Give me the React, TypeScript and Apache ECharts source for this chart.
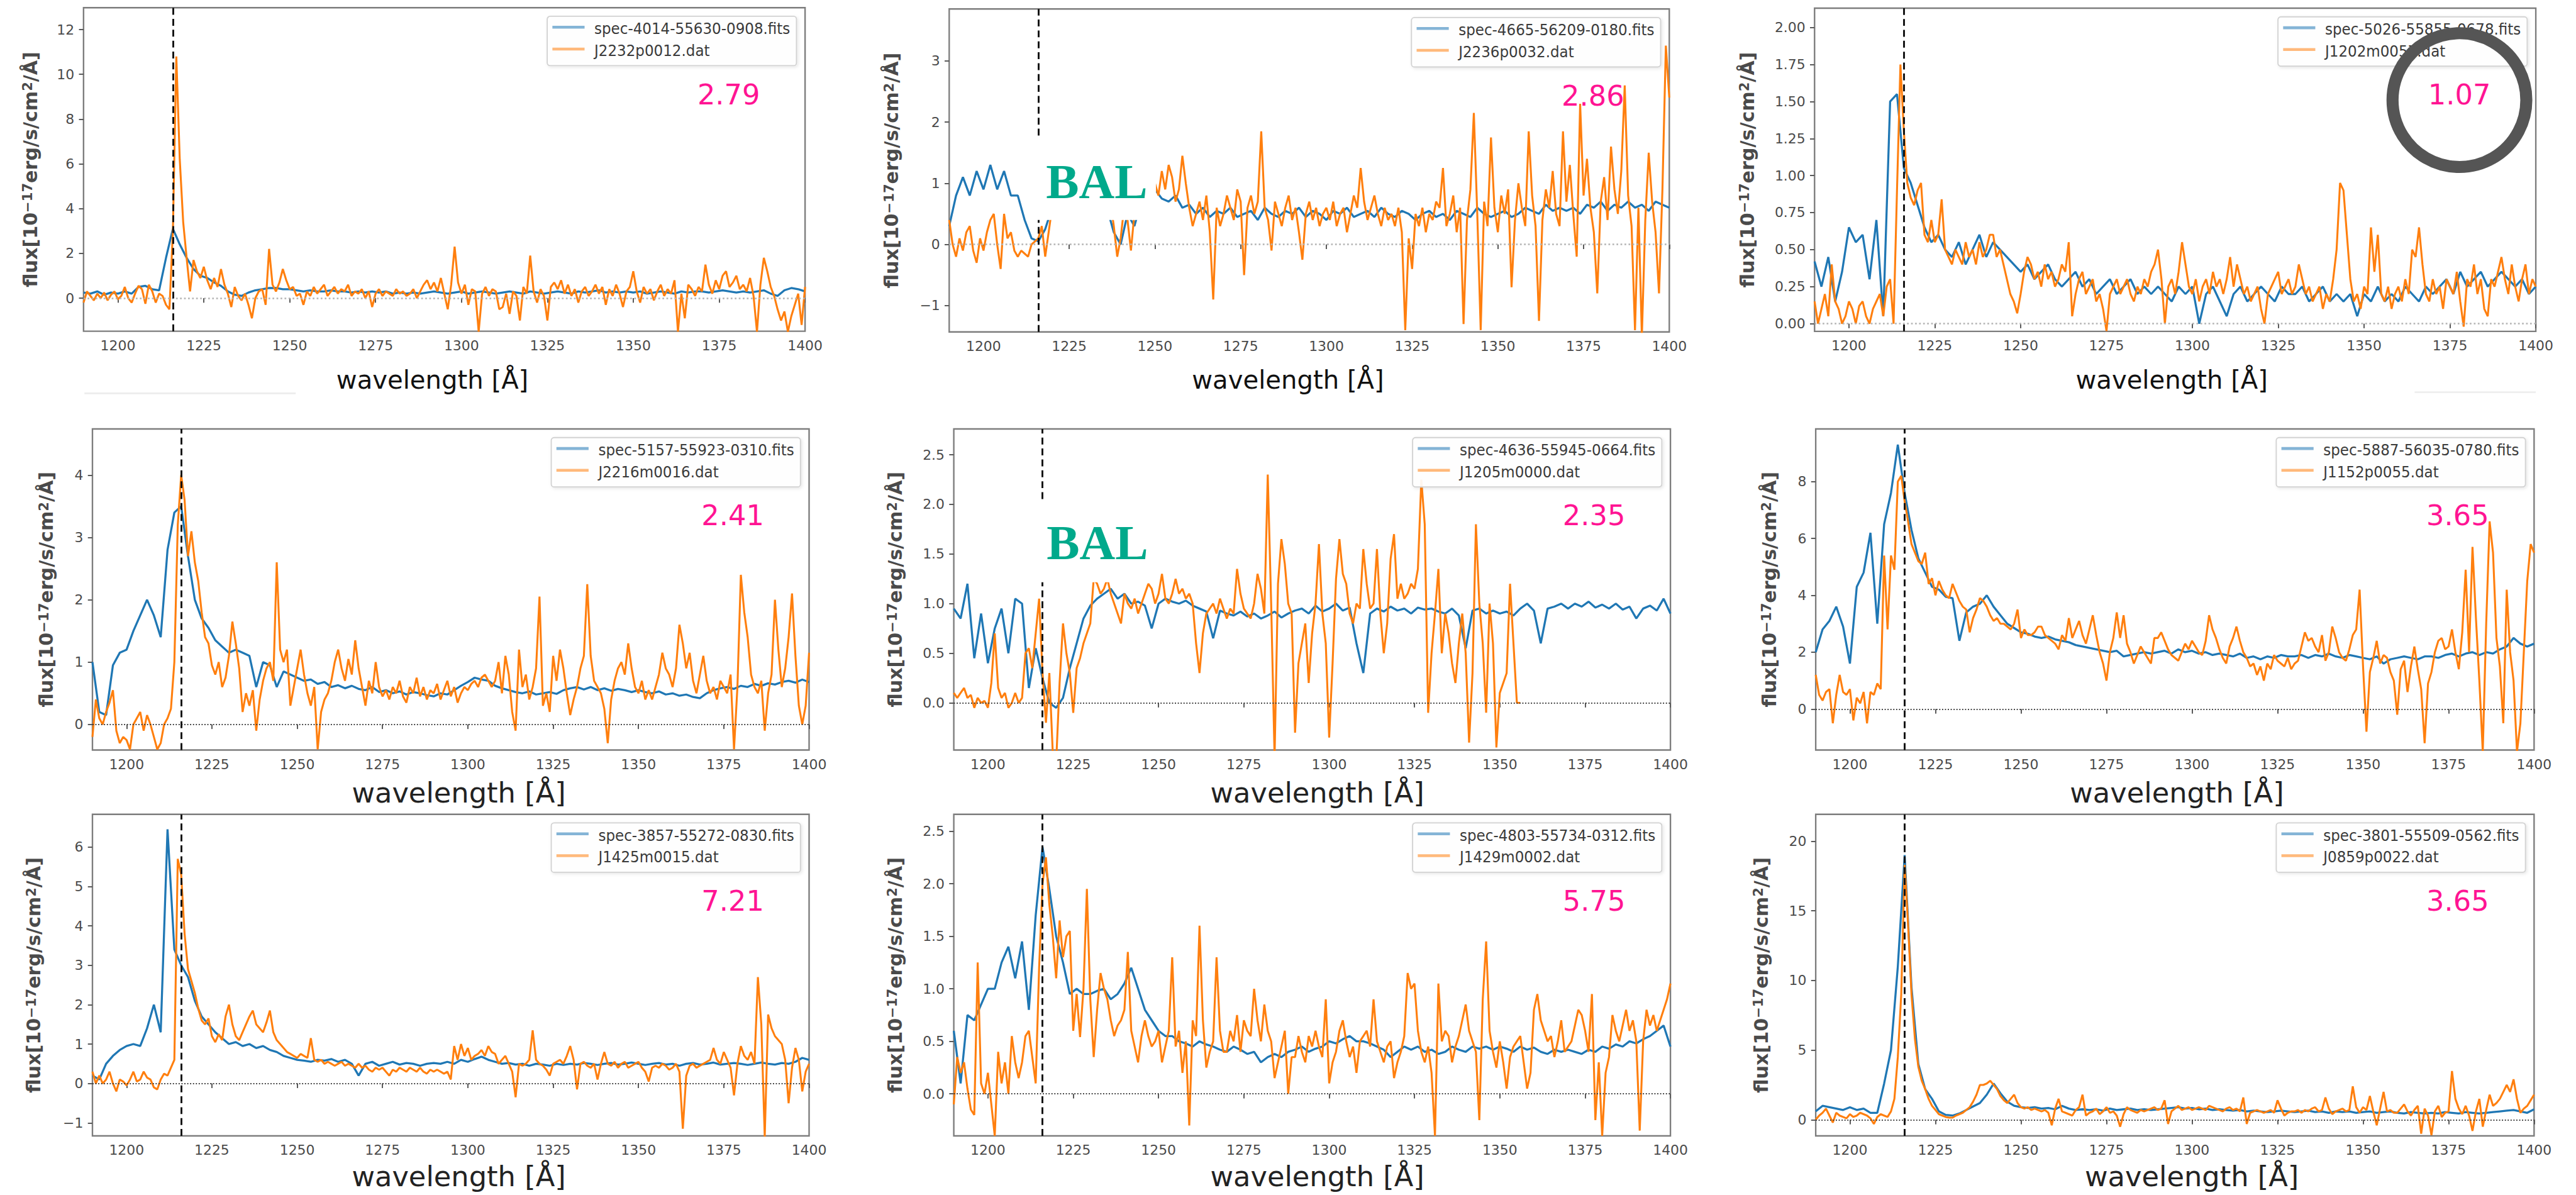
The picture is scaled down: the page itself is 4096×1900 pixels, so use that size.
import React, { useEffect, useRef } from "react";
import * as echarts from "echarts";

// Everything is laid out in a 4486-wide design space and scaled to the 4096 canvas.
const K = 4096 / 4486;
const s = (v: number) => v * K;

const WL_START = 1190;
const SDSS_STEP = 2; // Å between samples of the SDSS spectra
const DAT_STEP = 1; // Å between samples of the .dat spectra
const LYA = 1216;
const X_MIN = 1190;
const X_MAX = 1400;
const X_TICKS = [1200, 1225, 1250, 1275, 1300, 1325, 1350, 1375, 1400];

const SPEC_NAMES = [
  "spec-4014-55630-0908.fits",
  "spec-4665-56209-0180.fits",
  "spec-5026-55855-0678.fits",
  "spec-5157-55923-0310.fits",
  "spec-4636-55945-0664.fits",
  "spec-5887-56035-0780.fits",
  "spec-3857-55272-0830.fits",
  "spec-4803-55734-0312.fits",
  "spec-3801-55509-0562.fits",
];
const DAT_NAMES = [
  "J2232p0012.dat",
  "J2236p0032.dat",
  "J1202m0057.dat",
  "J2216m0016.dat",
  "J1205m0000.dat",
  "J1152p0055.dat",
  "J1425m0015.dat",
  "J1429m0002.dat",
  "J0859p0022.dat",
];
const RATIO_LABELS = ["2.79", "2.86", "1.07", "2.41", "2.35", "3.65", "7.21", "5.75", "3.65"];
const BAL_PANELS = [1, 4];
const CIRCLED_PANEL = 2;

const Y_MIN = [-1.48, -1.43, -0.052, -0.41, -0.475, -1.44, -1.33, -0.4, -1.16];
const Y_MAX = [12.98, 3.85, 2.13, 4.74, 2.76, 9.85, 6.83, 2.66, 21.93];
const Y_TICKS = [
  [0, 2, 4, 6, 8, 10, 12],
  [-1, 0, 1, 2, 3],
  [0, 0.25, 0.5, 0.75, 1, 1.25, 1.5, 1.75, 2],
  [0, 1, 2, 3, 4],
  [0, 0.5, 1, 1.5, 2, 2.5],
  [0, 2, 4, 6, 8],
  [-1, 0, 1, 2, 3, 4, 5, 6],
  [0, 0.5, 1, 1.5, 2, 2.5],
  [0, 5, 10, 15, 20],
];
const Y_DECIMALS = [0, 0, 2, 0, 1, 0, 0, 1, 0];

// ---- flux, 10^-17 erg/s/cm^2/Å ----
const P1_SDSS = [
  0.25, 0.2, 0.3, 0.15, 0.25, 0.2, 0.3, 0.2, 0.5, 0.55,
  0.4, 0.35, 1.8, 3.1, 2.4, 1.8, 1.3, 1.0, 0.9, 0.7,
  0.55, 0.3, 0.15, 0.1, 0.25, 0.35, 0.4, 0.45, 0.45, 0.4,
  0.4, 0.35, 0.3, 0.35, 0.3, 0.3, 0.35, 0.3, 0.3, 0.25,
  0.3, 0.25, 0.3, 0.25, 0.3, 0.2, 0.25, 0.2, 0.25, 0.2,
  0.25, 0.3, 0.25, 0.2, 0.25, 0.3, 0.2, 0.25, 0.3, 0.25,
  0.2, 0.25, 0.3, 0.25, 0.2, 0.3, 0.25, 0.2, 0.25, 0.3,
  0.25, 0.2, 0.3, 0.25, 0.3, 0.35, 0.25, 0.3, 0.25, 0.3,
  0.25, 0.3, 0.2, 0.25, 0.3, 0.25, 0.2, 0.3, 0.25, 0.3,
  0.3, 0.25, 0.3, 0.35, 0.3, 0.25, 0.3, 0.25, 0.3, 0.35,
  0.2, 0.1, 0.35, 0.45, 0.4, 0.3,
];
const P1_DAT = [
  -0.2, 0.3, 0.1, -0.1, 0.2, 0.0, 0.25, -0.1, 0.15, 0.3,
  -0.05, 0.1, 0.5, 0.0, -0.2, 0.2, 0.55, 0.4, -0.25, 0.6,
  0.3, -0.2, 0.2, 0.1, -0.3, -0.5, 3.0, 10.8, 6.2, 3.4,
  1.8, 0.3, 1.7, 1.2, 0.9, 1.4, 0.8, 0.4, 0.9, 0.5,
  1.3, 0.6, 0.2, -0.4, 0.5, 0.1, -0.1, 0.2, -0.3, -0.9,
  0.0, 0.3, 0.4, -0.3, 2.2, 0.6, 0.3, 0.7, 1.3, 0.8,
  0.4, 0.5, 0.1, 0.2, -0.3, 0.3, 0.1, 0.5, 0.2, 0.4,
  0.6, 0.1, 0.3, 0.5, 0.2, 0.4, 0.3, 0.6, 0.1, 0.3,
  0.2, 0.4, 0.0, 0.3, -0.4, 0.2, 0.4, 0.1, 0.3, 0.2,
  0.1, 0.4, 0.2, 0.3, 0.1, 0.2, 0.4, 0.0, 0.3, 0.6,
  0.8, 0.4, 0.7, 0.3, 0.9, 0.2, -0.5, 0.6, 2.3, 0.7,
  0.2, 0.6, -0.3, 0.4, 0.3, -1.5, 0.2, 0.5, 0.1, 0.4,
  0.3, -0.5, -0.4, 0.2, -0.7, 0.3, 0.1, -1.0, 0.5, 0.2,
  1.9, 0.3, -0.2, 0.4, 0.1, -1.0, 0.5, 0.7, 0.4, 0.8,
  0.2, 0.6, 0.1, 0.4, -0.2, 0.3, 0.5, 0.1, 0.3, 0.6,
  0.2, 0.5, -0.3, 0.4, 0.1, 0.6, 0.2, -0.4, 0.3, 0.5,
  1.2, 0.3, -0.2, 0.5, 0.2, 0.4, -0.1, 0.3, 0.6, 0.1,
  0.4, 0.2, 0.8, -1.5, 0.2, -0.9, 0.6, 0.4, 0.1, 0.5,
  0.3, 1.5, 0.6, 0.2, 0.8, 0.4, 1.0, 1.2, 0.5, 0.7,
  1.0, 0.4, 0.6, 0.3, 0.9, 0.1, -1.5, 0.6, 1.8, 1.2,
  0.5, 0.1, -0.5, -1.0, -0.6, -1.5, -0.8, -0.3, 0.2, -1.2,
  0.5,
];

const P2_SDSS = [
  0.3, 0.8, 1.1, 0.8, 1.2, 0.9, 1.3, 0.9, 1.2, 0.8,
  0.8, 0.4, 0.1, 0.05, 0.25, 0.6, 0.8, 0.9, 0.8, 0.9,
  0.85, 0.9, 0.8, 0.6, 0.2, 0.0, 0.5, 0.3, 0.7, 0.8,
  0.9, 0.75, 0.7, 0.8, 0.6, 0.65, 0.5, 0.6, 0.45, 0.55,
  0.5, 0.6, 0.45, 0.5, 0.55, 0.4, 0.6, 0.5, 0.45, 0.55,
  0.5, 0.6, 0.45, 0.55, 0.5, 0.4, 0.55, 0.5, 0.6, 0.45,
  0.5, 0.55, 0.45, 0.6, 0.5, 0.45, 0.55, 0.5, 0.4, 0.5,
  0.55, 0.45, 0.5, 0.4, 0.55, 0.5, 0.45, 0.6, 0.5, 0.45,
  0.5, 0.55, 0.45, 0.5, 0.6, 0.55, 0.5, 0.65, 0.55, 0.6,
  0.55, 0.6, 0.5, 0.65, 0.6, 0.7, 0.55, 0.65, 0.6, 0.7,
  0.6, 0.65, 0.55, 0.7, 0.65, 0.6,
];
const P2_DAT = [
  0.4, 0.0, -0.2, 0.1, -0.1, 0.2, 0.3, -0.1, -0.3, 0.1,
  -0.1, 0.2, 0.4, 0.5, 0.0, -0.4, 0.5, 0.1, 0.2, -0.1,
  -0.2, -0.1, -0.15, -0.2, 0.0, 0.05, 0.1, 0.3, -0.2, 0.2,
  0.6, 0.7, 0.9, 0.8, 1.0, 0.7, 0.9, 0.8, 0.7, 0.9,
  0.8, 0.6, 0.9, 0.7, 0.8, 0.6, 0.5, 0.7, 0.3, -0.2,
  0.1, 0.6, 0.4, -0.1, 0.5, 0.8, 0.9, 0.7, 1.0, 0.9,
  1.0, 0.8, 1.2, 0.9, 1.3, 1.1, 0.7, 0.9, 1.45, 1.0,
  0.6, 0.3, 0.5, 0.7, 0.4, 0.8, 0.2, -0.9, 0.6, 0.3,
  0.5, 0.8, 0.6, 0.4, 0.9, 0.7, -0.5, 0.6, 0.8, 0.5,
  0.7, 1.85, 0.6, 0.4, -0.1, 0.7, 0.5, 0.3, 0.6, 0.8,
  0.4, 0.6, 0.2, -0.25, 0.5, 0.7, 0.4, 0.6, 0.3, 0.5,
  0.6, 0.4, 0.7, 0.3, 0.5, 0.6, 0.2, 0.5, 0.8, 0.6,
  1.25, 0.7, 0.4, 0.6, 0.8, 0.5, 0.3, 0.6, 0.4, 0.5,
  0.3, 0.6, 0.2, -1.4, 0.1, -0.4, 0.5, 0.3, 0.6, 0.2,
  0.5, 0.4, 0.7, 0.6, 1.25, 0.3, 0.5, 0.8, 0.2, 0.6,
  -1.3, 0.4, 0.9, 2.15, 0.5, -1.4, 0.7, 0.3, 1.75, 0.6,
  0.2, 0.8, 0.5, 0.9, -0.7, 0.4, 1.0, 0.6, 0.3, 1.85,
  0.8, 0.3, -1.25, 0.4, 0.9, 0.6, 1.2, 0.5, 0.3, 1.85,
  0.7, 1.3, 0.5, -0.2, 2.3, 0.8, 1.4, 0.6, 0.2, -0.8,
  0.7, 1.1, 0.4, 1.6, 0.9, 0.5, 1.2, 2.6, 0.8, 0.3,
  -1.4, 0.6, -1.5, 0.4, 1.5, 0.7, 0.2, -0.8, 0.9, 3.25,
  2.4,
];

const P3_SDSS = [
  0.42, 0.25, 0.45, 0.15, 0.35, 0.65, 0.55, 0.6, 0.3, 0.7,
  0.05, 1.5, 1.55, 1.05, 0.95, 0.8, 0.65, 0.55, 0.6, 0.5,
  0.45, 0.55, 0.4, 0.5, 0.6, 0.45, 0.55, 0.5, 0.45, 0.4,
  0.35, 0.4, 0.3, 0.35, 0.4, 0.3, 0.25, 0.3, 0.35, 0.25,
  0.3, 0.2, 0.25, 0.3, 0.2, 0.25, 0.3, 0.2, 0.25, 0.2,
  0.25, 0.2, 0.15, 0.25, 0.2, 0.25, 0.0, 0.2, 0.25, 0.15,
  0.05, 0.2, 0.25, 0.15, 0.2, 0.25, 0.2, 0.15, 0.25, 0.2,
  0.2, 0.25, 0.15, 0.2, 0.25, 0.15, 0.2, 0.15, 0.2, 0.05,
  0.2, 0.15, 0.25, 0.15, 0.2, 0.15, 0.25, 0.2, 0.15, 0.25,
  0.2, 0.25, 0.3, 0.2, 0.35, 0.25, 0.3, 0.35, 0.25, 0.3,
  0.35, 0.3, 0.25, 0.3, 0.2, 0.25,
];
const P3_DAT = [
  0.15, 0.0, 0.1, 0.2, 0.05, 0.4, 0.15, 0.1, 0.0, 0.05,
  0.15, 0.1, 0.0, 0.12, 0.15, 0.05, 0.0, 0.1, 0.15, 0.2,
  0.05, 0.25, 0.3, 0.0, 0.9, 1.75, 1.3, 0.95, 0.85, 0.8,
  0.9, 0.95, 0.6, 0.55, 0.7, 0.55, 0.6, 0.84, 0.5, 0.45,
  0.4, 0.5, 0.45, 0.4, 0.55, 0.45, 0.5, 0.4, 0.55, 0.45,
  0.5, 0.6, 0.6, 0.45, 0.5, 0.4, 0.3, 0.2, 0.15, 0.07,
  0.2, 0.35, 0.45, 0.4, 0.3, 0.35, 0.25, 0.4, 0.3, 0.35,
  0.25, 0.3, 0.4, 0.35, 0.55, 0.05, 0.2, 0.3, 0.35, 0.2,
  0.25, 0.3, 0.15, 0.2, 0.1, -0.05, 0.2, 0.25, 0.3, 0.2,
  0.25, 0.3, 0.2, 0.15, 0.25, 0.2, 0.3, 0.25, 0.35, 0.4,
  0.5, 0.3, 0.0, 0.25, 0.3, 0.2, 0.35, 0.55, 0.4, 0.25,
  0.2, 0.3, 0.15, 0.25, 0.3, 0.2, 0.35, 0.25, 0.3, 0.2,
  0.3, 0.45, 0.25, 0.4, 0.3, 0.2, 0.25, 0.15, 0.2, 0.25,
  0.1, 0.0, 0.2, 0.25, 0.3, 0.35, 0.2, 0.25, 0.3, 0.2,
  0.25, 0.4, 0.3, 0.2, 0.25, 0.15, 0.2, 0.25, 0.1, 0.2,
  0.15, 0.3, 0.5, 0.95, 0.9, 0.6, 0.3, 0.15, 0.2, 0.1,
  0.25, 0.2, 0.65, 0.35, 0.6, 0.2, 0.15, 0.25, 0.1, 0.2,
  0.25, 0.15, 0.3, 0.2, 0.5, 0.45, 0.65, 0.4, 0.2, 0.15,
  0.3, 0.2, 0.25, 0.1, 0.3, 0.25, 0.2, 0.35, 0.15, -0.02,
  0.3, 0.25, 0.4, 0.2, 0.3, 0.1, 0.05, 0.3, 0.25, 0.35,
  0.45, 0.3, 0.2, 0.4, 0.25, 0.15, 0.3, 0.4, 0.2, 0.3,
  0.25,
];

const P4_SDSS = [
  1.0, 0.2, 0.15, 0.95, 1.15, 1.2, 1.5, 1.75, 2.0, 1.75,
  1.4, 2.8, 3.4, 3.5, 2.7, 2.0, 1.7, 1.55, 1.35, 1.25,
  1.15, 1.2, 1.15, 1.1, 0.6, 1.0, 0.95, 0.6, 0.85, 0.8,
  0.75, 0.7, 0.72, 0.65, 0.68, 0.6, 0.63, 0.58, 0.62, 0.57,
  0.55, 0.6, 0.52, 0.55, 0.5, 0.53, 0.48, 0.52, 0.5, 0.47,
  0.45, 0.5, 0.48, 0.55, 0.62, 0.68, 0.75, 0.72, 0.7, 0.62,
  0.58, 0.55, 0.52, 0.5, 0.53, 0.48, 0.5, 0.52, 0.49, 0.55,
  0.58, 0.6, 0.56, 0.6, 0.55, 0.58, 0.54, 0.57, 0.55, 0.52,
  0.55, 0.52, 0.5, 0.53, 0.48, 0.5, 0.46, 0.48, 0.44, 0.42,
  0.5, 0.55, 0.58, 0.6, 0.57, 0.62, 0.6, 0.65, 0.62, 0.66,
  0.64, 0.68, 0.7, 0.67, 0.72, 0.68,
];
const P4_DAT = [
  -0.2, 0.4, 0.1, 0.0, 0.2, 0.35, 0.55, -0.1, -0.3, -0.2,
  -0.25, -0.4, 0.0, 0.1, 0.2, -0.1, 0.15, 0.0, -0.2, -0.4,
  -0.3, 0.0, 0.1, 0.25, 1.0, 3.2, 4.0, 3.6, 2.7, 3.1,
  2.6, 2.3, 1.8, 1.4, 1.3, 0.95, 0.8, 1.0, 0.6, 0.75,
  1.1, 1.65, 1.3, 0.9, 0.2, 0.5, 0.3, 0.55, -0.1, 0.4,
  0.7, 0.9, 1.0, 0.7, 2.6, 1.2, 1.0, 1.2, 0.3, 0.6,
  0.9, 1.2, 0.8, 0.5, 0.3, 0.6, -0.4, 0.2, 0.4, 0.5,
  0.7, 1.0, 1.2, 0.9, 0.7, 1.05, 0.8, 1.35, 0.9, 0.6,
  0.3, 0.7, 0.5, 1.0, 0.6, 0.45, 0.55, 0.4, 0.6, 0.5,
  0.7, 0.45, 0.35, 0.6, 0.5, 0.75, 0.45, 0.6, 0.4, 0.55,
  0.5, 0.65, 0.4, 0.55, 0.7, 0.45, 0.6, 0.35, 0.5, 0.6,
  0.55, 0.65, 0.7, 0.6, 0.75, 0.8, 0.7, 0.6, 0.7, 1.0,
  0.5, 1.1, 0.8, 0.2, -0.1, 1.2, 0.6, 0.8, 0.4, 0.6,
  0.9, 2.05, 0.3, 0.5, 0.2, 1.1, 0.7, 1.2, 0.9, 0.5,
  0.15, 0.4, 0.6, 0.9, 1.1, 2.25, 1.1, 0.7, 0.6, 0.5,
  0.25, -0.3, 0.4, 0.7, 0.9, 1.0, 0.8, 1.3, 0.9, 0.6,
  0.5, 0.7, 0.4, 0.55, 0.4, 0.6, 0.8, 1.15, 0.9, 0.8,
  0.6, 0.9, 1.6, 1.3, 0.9, 1.15, 0.7, 0.5, 0.8, 1.1,
  0.7, 0.5, 0.6, 0.4, 0.7, 0.6, 0.5, 0.8, -0.4, 0.6,
  2.4, 1.8, 1.4, 0.8, 0.6, 0.5, 0.7, -0.1, 0.5, 0.8,
  2.0, 1.2, 0.6, 0.9, 1.4, 2.1, 1.1, 0.3, 0.0, 0.3,
  1.15,
];

const P5_SDSS = [
  0.95, 0.85, 1.2, 0.45, 0.9, 0.4, 0.75, 0.95, 0.5, 1.05,
  1.0, 0.15, 0.55, 0.25, 0.0, -0.05, 0.05, 0.35, 0.6, 0.85,
  0.98, 1.05, 1.1, 1.15, 1.05, 1.1, 1.0, 1.02, 0.98, 0.75,
  1.0, 1.05, 1.02, 1.0, 1.03, 0.98, 0.95, 0.92, 0.65, 0.93,
  0.9, 0.88, 0.92, 0.87, 0.9, 0.85, 0.88, 0.92, 0.86, 0.9,
  0.93, 0.95, 0.9, 0.98, 0.92, 0.95, 1.0, 0.93, 0.96, 0.6,
  0.3, 0.9, 0.95, 0.92, 0.97, 0.93, 0.95, 0.9, 0.96, 0.94,
  0.95, 0.92, 0.9, 0.95, 0.88, 0.55, 0.93, 0.95, 0.9, 0.93,
  0.9, 0.92, 0.88, 0.95, 1.0, 0.93, 0.6, 0.95, 0.97, 1.0,
  0.95, 1.0, 0.97, 1.02, 0.96, 0.99, 0.95, 1.0, 0.94, 0.97,
  0.85, 0.95, 0.98, 0.93, 1.05, 0.9,
];
// this spectrum stops at 1356 Å
const P5_DAT = [
  0.1, 0.05, 0.1, 0.15, 0.05, 0.08, -0.05, 0.05, 0.0, 0.02,
  -0.05, 0.2, 0.7, 0.15, 0.05, 0.1, -0.05, 0.0, 0.1, 0.0,
  0.05, 0.5, 0.55, 0.35, 0.7, 1.05, 0.3, -0.2, 0.3, -0.5,
  -0.6, 0.2, 0.8, 0.5, 0.3, -0.1, 0.35, 0.45, 0.6, 0.7,
  0.8, 1.25, 1.2, 1.1, 1.15, 1.25, 1.1, 1.0, 0.9, 0.8,
  1.1, 1.0, 0.95, 1.05, 0.9, 1.0, 1.1, 1.2, 1.15, 1.0,
  1.1, 1.3, 1.05, 1.0, 1.1, 1.25, 1.1, 1.15, 1.05, 1.1,
  1.0, 0.6, 0.3, 0.7, 0.9, 0.95, 1.0, 0.9, 1.05, 0.95,
  0.85, 0.95, 0.9, 1.35, 1.1, 0.95, 0.9, 0.85, 1.0, 1.3,
  1.15, 0.9, 2.3, 1.0, -0.55, 1.2, 1.65, 1.4, 1.0, 0.9,
  -0.3, 0.4, 0.6, 0.8, 0.2, 0.7, 1.0, 1.6, 0.9, 0.6,
  -0.35, 0.4, 1.25, 1.65, 1.3, 1.2, 0.9, 0.8, 1.0, 0.95,
  1.55, 1.2, 0.95, 1.0, 1.55, 0.9, 0.5, 0.8, 1.45, 1.7,
  1.05, 1.2, 1.05, 1.1, 1.2, 1.15, 1.35, 2.25, 1.8, -0.1,
  0.5, 0.9, 1.35, 0.5, 0.9, 0.7, 0.4, 0.2, 0.6, 0.9,
  0.5, -0.4, 0.3, 1.8, 1.0, 0.6, -0.1, 1.0, 0.6, -0.45,
  0.1, 0.2, 0.3, 1.2, 0.6, 0.0, 0.0,
];

const P6_SDSS = [
  2.0, 2.8, 3.1, 3.6, 2.9, 1.6, 4.3, 4.8, 6.2, 3.0,
  6.5, 7.6, 9.3, 7.6, 6.3, 5.3, 4.8, 4.3, 4.2, 3.95,
  3.9, 2.4, 3.4, 3.6, 3.7, 4.0, 3.6, 3.3, 3.0, 2.85,
  2.7, 2.65, 2.55, 2.5, 2.55, 2.45, 2.4, 2.35, 2.25, 2.2,
  2.15, 2.1, 2.05, 2.0, 2.05, 1.85, 1.9, 1.95, 2.0, 1.95,
  2.0, 2.05, 1.95, 2.1, 2.0, 2.05, 1.95, 2.0, 1.9, 1.95,
  1.9, 1.85, 1.95, 1.8, 1.85, 1.75, 1.85, 1.8, 1.9, 1.85,
  1.85, 1.9, 1.8, 1.9, 1.85, 1.95, 1.85, 1.8, 1.9, 1.85,
  1.8, 1.75, 1.85, 1.6, 1.75, 1.8, 1.85, 1.8, 1.75, 1.85,
  1.85, 1.8, 1.9, 1.95, 1.85, 1.95, 2.0, 1.9, 2.0, 1.95,
  2.1, 2.2, 2.5, 2.3, 2.2, 2.3,
];
const P6_DAT = [
  1.2, 0.5, 0.3, 0.6, 0.7, -0.5, 0.5, 1.2, 0.6, 0.5,
  0.7, -0.4, 0.4, 0.2, 0.6, -0.5, 0.6, 0.5, 0.9, 0.7,
  5.4, 2.8, 5.4, 4.9, 8.0, 8.2, 7.3, 6.6, 5.8, 5.5,
  5.2, 5.1, 5.5, 4.4, 4.6, 4.0, 4.5, 4.2, 4.0, 3.9,
  4.4, 4.1, 3.8, 3.6, 3.5, 2.7, 3.2, 3.5, 3.9, 3.8,
  3.6, 3.3, 3.1, 3.2, 3.0, 3.0, 2.9, 2.8, 3.0, 3.5,
  2.5, 2.8, 2.6, 2.6, 2.7, 2.9, 2.9, 2.6, 2.5, 2.4,
  2.3, 2.1, 2.6, 2.4, 3.2, 2.5, 2.8, 3.1, 2.6, 2.3,
  2.8, 3.3, 2.6, 2.0, 1.6, 1.0, 2.0, 2.5, 3.4, 2.5,
  3.3, 2.3, 2.0, 1.6, 1.9, 2.2, 2.0, 1.8, 1.6, 2.5,
  2.5, 2.7, 2.4, 2.1, 1.9, 1.8, 1.7, 2.0, 2.3, 2.1,
  2.4, 2.2, 2.0, 1.9, 2.4, 3.3, 2.8, 2.5, 2.1, 1.8,
  1.6, 2.2, 2.5, 2.9, 2.4, 2.0, 1.8, 1.5, 1.6, 1.2,
  1.5, 1.0, 1.6, 1.4, 1.9, 1.7, 1.6, 1.5, 1.8, 1.4,
  1.6, 1.7, 2.2, 2.7, 2.4, 2.5, 2.2, 2.0, 2.6, 1.7,
  2.0, 2.9, 2.5, 2.0, 1.8, 1.7, 2.1, 2.6, 2.8, 4.2,
  1.5, -0.8, 1.3, 1.8, 2.4, 1.6, 1.9, 1.8, 1.3, 1.0,
  -0.2, 1.4, 1.7, 0.6, 1.5, 2.2, 1.4, 0.7, -1.2, 0.9,
  1.3, 2.0, 2.4, 2.5, 2.1, 2.2, 2.8, 2.0, 1.4, 2.7,
  4.9, 2.0, 5.7, 3.2, 1.0, -1.5, 3.0, 6.6, 5.5, 2.5,
  1.5, -0.5, 4.2, 2.0, 1.0, -1.5, -0.5, 2.0, 4.5, 5.8,
  5.5,
];

const P7_SDSS = [
  0.2, 0.1, 0.5, 0.7, 0.85, 0.95, 1.0, 0.95, 1.4, 2.0,
  1.3, 6.45, 3.4, 3.0, 2.7, 2.1, 1.7, 1.5, 1.3, 1.15,
  1.0, 1.05, 0.95, 1.0, 0.9, 0.95, 0.85, 0.8, 0.7, 0.65,
  0.6, 0.58, 0.55, 0.6, 0.58, 0.62, 0.55, 0.6, 0.5, 0.2,
  0.5, 0.55, 0.45, 0.5, 0.55, 0.48, 0.52, 0.5, 0.45, 0.5,
  0.52, 0.5, 0.55, 0.5, 0.6, 0.55, 0.62, 0.68, 0.6, 0.55,
  0.5, 0.52, 0.48, 0.5, 0.45, 0.5, 0.48, 0.45, 0.5, 0.47,
  0.5, 0.48, 0.52, 0.5, 0.47, 0.5, 0.52, 0.48, 0.5, 0.53,
  0.5, 0.47, 0.5, 0.52, 0.48, 0.5, 0.45, 0.5, 0.52, 0.48,
  0.5, 0.53, 0.48, 0.5, 0.52, 0.5, 0.47, 0.5, 0.53, 0.5,
  0.48, 0.52, 0.5, 0.55, 0.65, 0.6,
];
const P7_DAT = [
  0.3, 0.0, 0.2, 0.0, 0.1, 0.3, 0.0, -0.2, 0.1, 0.05,
  -0.05, 0.1, 0.3, 0.05, 0.1, 0.3, 0.15, 0.1, -0.1, -0.15,
  0.1, 0.25, 0.2, 0.4, 0.6, 5.7, 5.3, 3.8, 2.9, 2.6,
  2.3, 1.9, 1.6, 1.5, 1.65, 1.2, 1.05, 1.25, 1.1, 1.7,
  2.0, 1.5, 1.2, 1.1, 1.3, 1.5, 1.7, 1.85, 1.5, 1.4,
  1.3, 1.55, 1.85, 1.3, 1.1, 1.0, 0.9, 0.8, 0.75, 0.7,
  0.65, 0.75, 0.7, 0.65, 1.15, 0.6, 0.55, 0.6, 0.5, 0.55,
  0.5, 0.45, 0.5, 0.55, 0.45, 0.5, 0.45, 0.4, 0.5, 0.4,
  0.45, 0.35, 0.3, 0.4, 0.35, 0.4, 0.3, 0.2, 0.35, 0.3,
  0.4, 0.35, 0.3, 0.4, 0.35, 0.3, 0.4, 0.3, 0.25, 0.35,
  0.3, 0.35, 0.3, 0.25, 0.3, 0.1, 0.95, 0.6, 1.0, 0.7,
  0.9, 0.6, 0.7, 0.75, 0.85, 0.7, 0.95, 0.8, 0.75, 0.5,
  0.6, 0.7, 0.5, 0.3, -0.35, 0.5, 0.45, 0.5, 0.6, 1.35,
  0.6, 0.5, 0.45, 0.35, 0.2, 0.5, 0.55, 0.6, 0.5, 0.7,
  0.95, 0.6, -0.15, 0.5, 0.55, 0.45, 0.4, 0.5, 0.1, 0.5,
  0.8, 0.5, 0.45, 0.55, 0.4, 0.5, 0.55, 0.4, 0.45, 0.5,
  0.55, 0.4, 0.3, 0.05, 0.4, 0.45, 0.4, 0.5, 0.45, 0.35,
  0.4, 0.5, 0.3, -1.15, 0.2, 0.45, 0.5, 0.4, 0.45, 0.5,
  0.55, 0.6, 0.9, 0.6, 0.5, 0.8, 0.6, 0.4, -0.3, 0.5,
  0.95, 0.7, 0.6, 0.8, 0.5, 2.7, 1.5, -1.35, 1.75, 1.4,
  1.2, 1.1, 1.0, 0.6, -0.5, 0.4, 0.9, 0.6, -0.2, 0.3,
  0.5,
];

const P8_SDSS = [
  0.6, 0.1, 0.75, 0.7, 0.85, 1.0, 1.0, 1.25, 1.4, 1.1,
  1.45, 0.8, 1.7, 2.35, 1.95, 1.5, 1.25, 0.95, 1.0, 0.95,
  0.95, 0.98, 1.0, 0.9, 0.95, 1.05, 1.2, 1.0, 0.8, 0.7,
  0.6, 0.55, 0.55, 0.5, 0.48, 0.45, 0.5, 0.47, 0.45, 0.42,
  0.4, 0.45, 0.42, 0.38, 0.4, 0.3, 0.35, 0.38, 0.35, 0.4,
  0.42, 0.45, 0.4, 0.43, 0.45, 0.5, 0.48, 0.52, 0.55, 0.5,
  0.5, 0.48, 0.45, 0.42, 0.35, 0.4, 0.45, 0.42, 0.45, 0.4,
  0.42, 0.38, 0.4, 0.45, 0.42, 0.4, 0.45, 0.43, 0.45, 0.42,
  0.45, 0.43, 0.4, 0.45, 0.42, 0.44, 0.4, 0.38, 0.42, 0.4,
  0.42, 0.4, 0.38, 0.42, 0.4, 0.45, 0.43, 0.47, 0.45, 0.5,
  0.48, 0.52, 0.55, 0.6, 0.65, 0.45,
];
const P8_DAT = [
  -0.1, 0.35, 0.2, 0.3, 0.05, -0.15, -0.2, 1.25, 0.1, 0.0,
  0.2, -0.1, -0.4, 0.4, 0.1, 0.3, 0.0, 0.55, 0.3, 0.15,
  0.3, 0.55, 0.6, 0.35, 0.1, 1.2, 2.0, 2.25, 1.8, 1.5,
  1.1, 1.65, 1.3, 1.5, 1.55, 0.6, 0.95, 0.54, 1.0, 1.95,
  0.9, 0.35, 0.8, 1.15, 1.0, 0.9, 0.7, 0.55, 0.65, 0.7,
  0.8, 1.35, 0.6, 0.45, 0.3, 0.55, 0.7, 0.55, 0.45, 0.5,
  0.6, 0.3, 0.45, 0.6, 1.3, 0.45, 0.6, 0.2, 0.5, -0.3,
  0.7, 0.55, 1.6, 0.7, 0.25, 0.4, 0.5, 1.3, 0.6, 0.4,
  0.4, 0.6, 0.5, 0.75, 0.4, 0.7, 0.6, 0.55, 1.0, 0.7,
  0.5, 0.85, 0.6, 0.5, 0.15, 0.3, 0.45, 0.6, 0.0, 0.35,
  0.35, 0.55, 0.4, 0.3, 0.55, 0.45, 0.6, 0.45, 0.35, 0.9,
  0.1, 0.3, 0.4, 0.6, 0.7, 0.5, 0.35, 0.45, 0.2, 0.5,
  0.55, 0.6, 0.45, 0.9, 0.5, 0.4, 0.3, 0.45, 0.5, 0.15,
  0.3, 0.4, 0.55, 1.15, 1.0, 1.05, 0.6, 0.4, 0.3, 0.45,
  0.2, -0.4, 1.05, 0.5, 0.6, 0.55, 0.3, 0.45, 0.55, 0.7,
  0.85, 0.6, 0.5, 0.4, -0.25, 0.9, 1.45, 0.6, 0.4, 0.25,
  0.5, 0.3, 0.05, 0.35, 0.45, 0.5, 0.55, 0.3, 0.05, 0.2,
  0.8, 0.95, 0.7, 0.6, 0.5, 0.55, 0.35, 0.5, 0.7, 0.4,
  0.45, 0.5, 0.65, 0.8, 0.75, 0.6, 0.4, 0.95, -0.25, 0.3,
  -0.4, 0.2, 0.35, 0.75, 0.6, 0.5, 0.65, 0.8, 0.6, 0.7,
  0.5, -0.35, 0.5, 0.8, 0.65, 0.75, 0.6, 0.7, 0.8, 0.9,
  1.05,
];

const P9_SDSS = [
  0.6, 1.0, 0.9, 0.8, 0.7, 0.9, 0.7, 0.8, 0.5, 0.5,
  2.6, 5.0, 11.0, 19.0, 9.5, 4.0, 2.2, 1.5, 0.6, 0.35,
  0.3, 0.45, 0.7, 0.95, 1.2, 1.8, 2.6, 1.9, 1.3, 1.0,
  0.9, 0.85, 0.9, 0.8, 0.85, 0.75, 1.0, 0.8, 0.7, 0.75,
  0.7, 0.75, 0.65, 0.8, 0.7, 0.75, 0.8, 0.7, 0.75, 0.7,
  0.75, 0.8, 0.85, 0.9, 0.8, 0.85, 0.75, 0.8, 0.7, 0.75,
  0.7, 0.65, 0.7, 0.6, 0.65, 0.6, 0.55, 0.6, 0.65, 0.6,
  0.55, 0.6, 0.65, 0.55, 0.6, 0.5, 0.6, 0.55, 0.6, 0.5,
  0.55, 0.6, 0.5, 0.55, 0.6, 0.5, 0.45, 0.55, 0.5, 0.45,
  0.5, 0.45, 0.55, 0.5, 0.45, 0.55, 0.5, 0.45, 0.5, 0.55,
  0.6, 0.65, 0.7, 0.6, 0.5, 0.75,
];
const P9_DAT = [
  0.0, 0.3, 0.5, 0.8, 0.3, -0.2, 0.5, 0.3, 0.2, 0.1,
  0.4, 0.2, 0.3, 0.5, 0.4, 0.3, 0.1, -0.3, 0.2, 0.4,
  0.3, 0.2, 0.6, 1.5, 4.5, 9.0, 18.3, 14.0, 9.0, 5.8,
  3.8, 2.8, 2.2, 1.5, 1.0, 0.7, 0.4, 0.3, 0.2, 0.15,
  0.15, 0.3, 0.4, 0.5, 0.7, 0.9, 1.3, 1.8, 2.5, 2.5,
  2.6, 2.8, 2.5, 2.2, 1.7, 1.4, 1.2, 1.5, 1.8, 1.2,
  0.9, 0.8, 0.9, 0.7, 0.8, 0.7, 0.6, 0.7, 0.5, -0.4,
  0.8, 1.5, 0.6, 0.5, 0.4, 0.3, 0.7, 0.9, 1.8, 0.3,
  0.5, 0.6, 0.8, 0.4, 0.6, 0.9, 0.5, 0.6, 0.3, -0.5,
  0.4, 0.9, 0.7, 0.6, 0.5, 0.7, 0.6, 0.7, 0.8, 0.9,
  0.7, 0.8, 1.4, -0.3, 0.6, 0.8, 1.0, 0.7, 0.8, 0.9,
  0.7, 0.8, 0.9, 0.8, 0.7, 1.0, 0.9, 0.8, 0.7, 0.6,
  0.8, 0.9, 0.7, 0.8, 0.6, 1.6, -0.3, 0.5, 0.6, 0.7,
  0.6, 0.5, 0.6, 0.7, 0.5, 1.4, 0.8, 0.3, 0.5, 0.6,
  0.6, 0.7, 0.5, 0.7, 0.6, 0.8, 0.9, 0.6, 0.7, 1.6,
  0.8, 0.4, 0.6, 0.7, 0.8, 0.6, 0.7, 2.4, 0.9, 0.5,
  0.9, 0.7, 1.7, 0.6, -0.4, 0.8, 2.0, 0.6, 0.7, 0.5,
  0.5, 0.8, 1.1, 0.6, 0.3, 0.7, 1.0, -1.0, 0.8, 0.3,
  -1.1, 0.6, 1.0, 0.2, 0.5, 0.6, 3.5, 1.5, 0.8, 0.4,
  1.0, 0.3, -0.8, 0.6, 1.5, -0.5, 0.7, 1.8, 1.0, 1.2,
  1.5, 2.0, 2.5, 2.0, 2.9, 1.5, 0.5, 0.8, 1.0, 1.4,
  1.8,
];

const SDSS = [P1_SDSS, P2_SDSS, P3_SDSS, P4_SDSS, P5_SDSS, P6_SDSS, P7_SDSS, P8_SDSS, P9_SDSS];
const DAT = [P1_DAT, P2_DAT, P3_DAT, P4_DAT, P5_DAT, P6_DAT, P7_DAT, P8_DAT, P9_DAT];

// ---- layout (design pixels): plot frame [left, right, top, bottom] ----
const FRAMES = [
  [145.5, 1402, 13.4, 576.8],
  [1653, 2907, 15.6, 578],
  [3160, 4416, 14.3, 577],
  [161, 1409, 747, 1306],
  [1661, 2909, 747, 1306],
  [3162, 4413, 747, 1306],
  [161, 1409, 1418, 1978],
  [1661, 2909, 1418, 1978],
  [3162, 4413, 1418, 1978],
];
const XLABEL_POS = [
  [753, 661], [2243, 661], [3782, 661],
  [799, 1381], [2294, 1381], [3791, 1381],
  [799, 2049], [2294, 2049], [3817, 2049],
];
const YLABEL_X = [53, 1553, 3043, 81, 1559, 3081, 59, 1559, 3067];
const BAL_BOXES: Record<number, number[]> = {
  1: [1805, 242, 2013, 383, 1910, 316],
  4: [1811, 871, 2012, 1014, 1911, 945],
};

const BLUE = "#1f77b4";
const ORANGE = "#ff7f0e";
const PINK = "#ff1493";

function fmtTick(v: number, d: number) {
  const t = Math.abs(v).toFixed(d);
  return v < 0 ? "\u2212" + t : t;
}

function buildOption() {
  const grid: any[] = [];
  const xAxis: any[] = [];
  const yAxis: any[] = [];
  const series: any[] = [];
  const elements: any[] = [];

  FRAMES.forEach(([L, R, T, B], i) => {
    const row = Math.floor(i / 3);
    grid.push({
      left: s(L),
      top: s(T),
      width: s(R - L),
      height: s(B - T),
      show: true,
      borderColor: "#7d7d7d",
      borderWidth: s(2.6),
      backgroundColor: "transparent",
      containLabel: false,
      outerBoundsMode: "none",
    });
    xAxis.push({
      type: "value",
      gridIndex: i,
      min: X_MIN,
      max: X_MAX,
      axisLine: { show: false },
      splitLine: { show: false },
      axisTick: {
        show: true,
        customValues: X_TICKS,
        length: s(8),
        lineStyle: { color: "#5a5a5a", width: s(2.2) },
      },
      axisLabel: {
        customValues: X_TICKS,
        margin: s(13),
        fontSize: s(24),
        color: "#4a4a4a",
        fontFamily: "DejaVu Sans",
        formatter: (v: number) => String(v),
      },
    });
    yAxis.push({
      type: "value",
      gridIndex: i,
      min: Y_MIN[i],
      max: Y_MAX[i],
      axisLine: { show: false },
      splitLine: { show: false },
      axisTick: {
        show: true,
        customValues: Y_TICKS[i],
        length: s(8),
        lineStyle: { color: "#5a5a5a", width: s(2.2) },
      },
      axisLabel: {
        customValues: Y_TICKS[i],
        margin: s(16),
        fontSize: s(24),
        color: "#4a4a4a",
        fontFamily: "DejaVu Sans",
        formatter: (v: number) => fmtTick(v, Y_DECIMALS[i]),
      },
    });

    const zeroStyle =
      row === 0
        ? { color: "#b4b4b4", width: s(3), type: [s(3), s(4)] }
        : { color: "#3a3a3a", width: s(2), type: [s(2), s(3)] };

    series.push({
      type: "line",
      name: SPEC_NAMES[i],
      xAxisIndex: i,
      yAxisIndex: i,
      data: SDSS[i].map((v, k) => [WL_START + k * SDSS_STEP, v]),
      showSymbol: false,
      symbol: "none",
      lineStyle: { color: BLUE, width: s(3.6) },
      itemStyle: { color: BLUE },
      z: 2,
    });
    series.push({
      type: "line",
      name: DAT_NAMES[i],
      xAxisIndex: i,
      yAxisIndex: i,
      data: DAT[i].map((v, k) => [WL_START + k * DAT_STEP, v]),
      showSymbol: false,
      symbol: "none",
      lineStyle: { color: ORANGE, width: s(3.4) },
      itemStyle: { color: ORANGE },
      z: 3,
      markLine: {
        silent: true,
        symbol: ["none", "none"],
        label: { show: false },
        data: [
          { yAxis: 0, lineStyle: zeroStyle },
          { xAxis: LYA, lineStyle: { color: "#111", width: s(3.2), type: [s(12), s(7)] } },
        ],
      },
    });

    // legend box
    elements.push({
      type: "rect",
      z: 50,
      shape: { x: s(R - 449), y: s(T + 15), width: s(434), height: s(86), r: s(5) },
      style: {
        fill: "rgba(255,255,255,0.92)",
        stroke: "#d2d2d2",
        lineWidth: s(2),
        shadowBlur: s(6),
        shadowColor: "rgba(0,0,0,0.10)",
        shadowOffsetX: s(2),
        shadowOffsetY: s(2),
      },
    });
    [
      [SPEC_NAMES[i], BLUE, T + 34],
      [DAT_NAMES[i], ORANGE, T + 72],
    ].forEach(([label, color, y]) => {
      elements.push({
        type: "line",
        z: 51,
        shape: { x1: s(R - 440), y1: s(y as number), x2: s(R - 384), y2: s(y as number) },
        style: { stroke: color, lineWidth: s(5), opacity: 0.55 },
      });
      elements.push({
        type: "text",
        z: 51,
        x: s(R - 367),
        y: s((y as number) + 2),
        scaleX: 0.9,
        style: {
          text: label,
          x: 0,
          y: 0,
          fontFamily: "DejaVu Sans",
          fontSize: s(28),
          fill: "#3a3a3a",
          align: "left",
          verticalAlign: "middle",
        },
      });
    });

    // value in the upper right corner
    elements.push({
      type: "text",
      z: 52,
      x: s(R - 133),
      y: s(T + 151),
      style: {
        text: RATIO_LABELS[i],
        x: 0,
        y: 0,
        fontFamily: "DejaVu Sans",
        fontSize: s(49),
        fill: PINK,
        align: "center",
        verticalAlign: "middle",
      },
    });

    // axis titles
    const [lx, ly] = XLABEL_POS[i];
    elements.push({
      type: "text",
      z: 52,
      x: s(lx),
      y: s(ly),
      style: {
        text: "wavelength [\u00c5]",
        x: 0,
        y: 0,
        fontFamily: "DejaVu Sans",
        fontSize: s(row === 0 ? 44 : 49),
        fill: row === 0 ? "#111" : "#222",
        align: "center",
        verticalAlign: "middle",
      },
    });
    const yl = s(33);
    elements.push({
      type: "text",
      z: 52,
      x: s(YLABEL_X[i]),
      y: s((T + B) / 2),
      rotation: Math.PI / 2,
      style: {
        text: "{b|flux[10}{p|\u221217}{b|erg/s/cm}{p|2}{b|/\u00c5]}",
        x: 0,
        y: 0,
        align: "center",
        verticalAlign: "middle",
        rich: {
          b: { fontFamily: "DejaVu Sans", fontWeight: "bold", fontSize: yl, fill: "#4a4a4a" },
          p: {
            fontFamily: "DejaVu Sans",
            fontWeight: "bold",
            fontSize: yl * 0.7,
            fill: "#4a4a4a",
            verticalAlign: "top",
          },
        },
      },
    });
  });

  // "BAL" flags covering the absorbed region
  BAL_PANELS.forEach((i) => {
    const [x1, y1, x2, y2, tx, ty] = BAL_BOXES[i];
    elements.push({
      type: "rect",
      z: 60,
      shape: { x: s(x1), y: s(y1), width: s(x2 - x1), height: s(y2 - y1) },
      style: { fill: "#ffffff" },
    });
    elements.push({
      type: "text",
      z: 61,
      x: s(tx),
      y: s(ty),
      style: {
        text: "BAL",
        x: 0,
        y: 0,
        fontFamily: "Liberation Serif",
        fontWeight: "bold",
        fontSize: s(86),
        fill: "#00a98b",
        align: "center",
        verticalAlign: "middle",
      },
    });
  });

  // ring drawn around one of the values
  {
    const [, R, T] = FRAMES[CIRCLED_PANEL];
    elements.push({
      type: "circle",
      z: 62,
      shape: { cx: s(R - 133), cy: s(T + 160), r: s(116.5) },
      style: { fill: "none", stroke: "#555555", lineWidth: s(21) },
    });
  }

  // faint rules under the first row
  elements.push({
    type: "line",
    z: 1,
    shape: { x1: s(147), y1: s(685), x2: s(515), y2: s(685) },
    style: { stroke: "#ececec", lineWidth: s(3) },
  });
  elements.push({
    type: "line",
    z: 1,
    shape: { x1: s(4205), y1: s(683), x2: s(4416), y2: s(683) },
    style: { stroke: "#eeeeee", lineWidth: s(3) },
  });

  return {
    animation: false,
    backgroundColor: "#ffffff",
    textStyle: { fontFamily: "DejaVu Sans" },
    grid,
    xAxis,
    yAxis,
    series,
    graphic: { elements },
  };
}

export default function App() {
  const ref = useRef<HTMLDivElement>(null);
  useEffect(() => {
    if (!ref.current) return;
    const chart = echarts.init(ref.current, undefined, { renderer: "svg" });
    chart.setOption(buildOption() as any);
    return () => chart.dispose();
  }, []);
  return (
    <div
      ref={ref}
      style={{ position: "fixed", left: 0, top: 0, width: 4096, height: 1900, background: "#fff" }}
    />
  );
}
